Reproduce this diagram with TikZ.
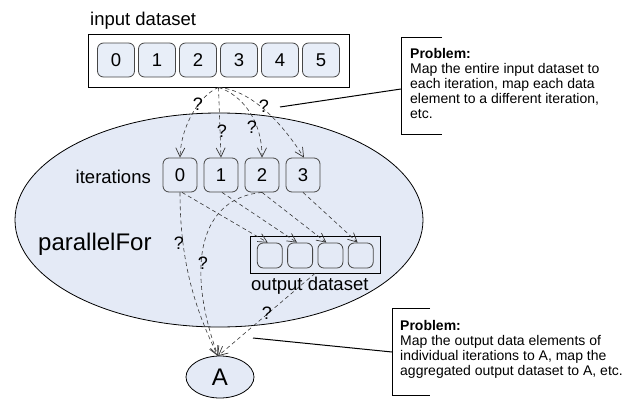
\documentclass[tikz,border=0pt]{standalone}
\usepackage{fontspec}
\setmainfont{Liberation Sans}
\usetikzlibrary{arrows.meta,shapes.geometric}

\definecolor{bubble}{RGB}{228,234,246}
\definecolor{cellfill}{RGB}{232,238,248}
\definecolor{cellline}{RGB}{70,70,70}
\definecolor{flow}{RGB}{55,55,55}

\begin{document}
\begin{tikzpicture}[x=1pt,y=-1pt,
  lbl/.style={inner sep=0pt, font=\fontsize{18.5}{20}\selectfont},
  bigcell/.style={draw=cellline, fill=cellfill, line width=0.8pt, rounded corners=6pt,
    minimum width=37pt, minimum height=34pt, inner sep=0pt, font=\fontsize{18.5}{20}\selectfont},
  itcell/.style={bigcell, fill=bubble, minimum width=34pt},
  outcell/.style={draw=cellline, fill=bubble, line width=0.8pt, rounded corners=6pt,
    minimum width=25pt, minimum height=25pt, inner sep=0pt},
  frame/.style={draw=black, line width=0.8pt, inner sep=0pt},
  flowline/.style={draw=flow, line width=0.6pt, dash pattern=on 4pt off 3pt,
    -{Straight Barb[length=9pt,width=9pt,line width=0.7pt]}},
  qmark/.style={inner sep=0pt, font=\fontsize{18}{20}\selectfont},
  note/.style={anchor=north west, inner sep=0pt, align=left, font=\fontsize{14}{15}\selectfont},
  callout/.style={draw=black, line width=1pt}
]
\useasboundingbox (0,0) rectangle (638,399);

% parallelFor region
\node[ellipse, draw=black, fill=bubble, line width=0.8pt, minimum width=408pt, minimum height=214pt,
  inner sep=0pt] (pf) at (219,220) {};
\node[lbl, anchor=base west, font=\fontsize{24}{26}\selectfont] (pflabel) at (38,250) {parallelFor};

% input dataset
\node[lbl, anchor=base west] (inlabel) at (90,25) {input dataset};
\node[frame, minimum width=261pt, minimum height=53pt] (in) at (218.5,60.5) {};
\foreach \i in {0,...,5}
  \node[bigcell] (d\i) at (116+41*\i,60) {\i};

% iterations
\node[lbl, anchor=base east] (itlabel) at (151,183) {iterations};
\foreach \i in {0,...,3}
  \node[itcell] (it\i) at (180+41*\i,175) {\i};

% output dataset
\node[frame, minimum width=130pt, minimum height=37pt] (out) at (315,254.5) {};
\foreach \i in {1,...,4}
  \node[outcell] (o\i) at (239.5+30.3*\i,255.5) {};
\node[lbl, anchor=base west] (outlabel) at (251,290) {output dataset};

% result
\node[ellipse, draw=black, fill=bubble, line width=0.8pt, minimum width=68pt, minimum height=42pt,
  inner sep=0pt, font=\fontsize{24}{26}\selectfont] (A) at (220,377) {A};

% input dataset -> iterations
\draw[flowline] (in.south) .. controls (200,95) and (181,125) .. (it0.north);
\draw[flowline] (in.south) -- (it1.north);
\draw[flowline] (in.south) .. controls (242,95) and (262,120) .. (it2.north);
\draw[flowline] (in.south) .. controls (250,90) and (280,120) .. ([xshift=1pt]it3.north);
\node[qmark] (q1) at (198,104) {?};
\node[qmark] (q2) at (222,131) {?};
\node[qmark] (q3) at (252,127) {?};
\node[qmark] (q4) at (264,106) {?};

% iterations -> output elements
\draw[flowline] ([xshift=2pt]it0.south) -- ([xshift=-2pt]o1.north);
\draw[flowline] ([xshift=1pt]it1.south) -- ([xshift=-3pt]o2.north);
\draw[flowline] (it2.south) -- ([xshift=-4pt]o3.north);
\draw[flowline] (it3.south) -- ([xshift=-3pt]o4.north);

% iterations / output dataset -> A
\coordinate (Atop) at (218,356);
\draw[flowline] (it0.south) .. controls (180,250) and (190,300) .. (Atop);
\draw[flowline] (it2.south) .. controls (200,198) and (185,265) .. (Atop);
\draw[flowline] (out.south) -- (Atop);
\node[qmark] (q5) at (179,243) {?};
\node[qmark] (q6) at (203,263) {?};
\node[qmark] (q7) at (267,313) {?};

% problem notes
\node[note] (p1) at (410,48) {\textbf{Problem:}\\Map the entire input dataset to\\each iteration, map each data\\element to a different iteration,\\etc.};
\draw[callout] (442,37) -- (401,37) -- (401,134) -- (442,134);
\coordinate (b1) at (401,89);
\coordinate (c1) at (280,107);
\draw[callout] (c1) -- (b1);

\node[note] (p2) at (400,320) {\textbf{Problem:}\\Map the output data elements of\\individual iterations to A, map the\\aggregated output dataset to A, etc.};
\draw[callout] (430,308) -- (392,308) -- (392,395) -- (430,395);
\coordinate (b2) at (392,352);
\coordinate (c2) at (253,338);
\draw[callout] (c2) -- (b2);
\end{tikzpicture}
\end{document}
